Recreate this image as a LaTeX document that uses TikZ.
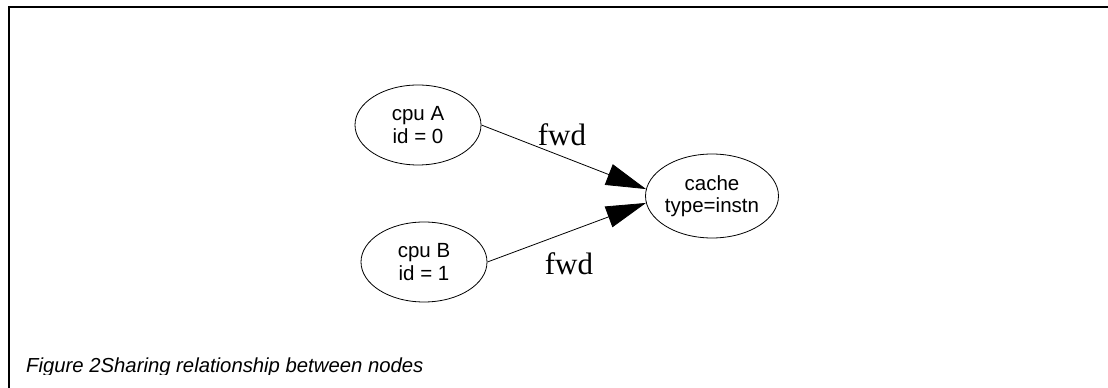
\documentclass[tikz,border=0pt]{standalone}
\usepackage{fontspec}
\setmainfont{Liberation Sans}
\newfontfamily\timesf{Liberation Serif}
\usetikzlibrary{shapes.geometric,arrows.meta,calc}
\begin{document}
\begin{tikzpicture}[x=1pt,y=1pt,
  nodeell/.style={draw,ellipse,line width=0.8pt,minimum width=126pt,minimum height=80pt,inner sep=0pt,align=center,font=\fontsize{20.5}{22.5}\selectfont},
  edge/.style={line width=0.8pt,-{Triangle[length=40pt,width=22pt]}},
  lbl/.style={font=\timesf\fontsize{31}{34}\selectfont,inner sep=0pt},
  frameline/.style={line width=2pt}]
\useasboundingbox (0,0) rectangle (1108,388);
\coordinate (fb) at (9,0);
\coordinate (fc) at (9,381);
\coordinate (fr) at (1108,381);
\draw[frameline] (fb) -- (fc) -- (fr);
\node[nodeell] (A) at (418,263) {cpu A\\id = 0};
\node[nodeell] (B) at (424,126) {cpu B\\id = 1};
\node[nodeell,minimum width=128pt,minimum height=84pt] (C) at (712,192) {cache\\type=instn};
\draw[edge] (A.east) -- (C.174);
\draw[edge] (B.east) -- (C.186);
\node[lbl] (l1) at (562,253) {fwd};
\node[lbl] (l2) at (569,124) {fwd};
\begin{scope}
\clip (0,13.5) rectangle (1108,388);
\node[anchor=base west,inner sep=0pt,font=\itshape\fontsize{20.3}{23}\selectfont] (cap) at (26,15) {Figure 2Sharing relationship between nodes};
\end{scope}
\end{tikzpicture}
\end{document}
